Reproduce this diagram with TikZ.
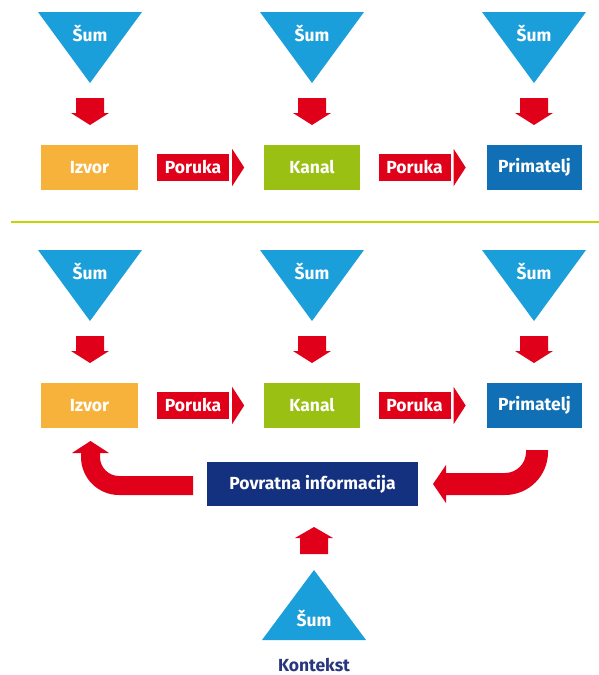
\documentclass[tikz,border=0pt]{standalone}
\usepackage{fontspec}
\setmainfont{Fira Sans}
\usetikzlibrary{calc}
\definecolor{sumblue}{HTML}{1A9FDB}
\definecolor{arrred}{HTML}{E1001A}
\definecolor{izvorc}{HTML}{F6B23A}
\definecolor{kanalc}{HTML}{99C012}
\definecolor{primc}{HTML}{1170B5}
\definecolor{povrc}{HTML}{13317F}
\definecolor{sepline}{HTML}{C4D600}
\definecolor{kontc}{HTML}{27367F}
\newcommand{\commrow}[1]{%
  \foreach \cx/\nm in {90/a,312/b,534/c} {
    \fill[sumblue] (\cx-52,12) -- (\cx+52,12) -- (\cx,83) -- cycle;
    \node[lbl] (sum#1\nm) at (\cx,33) {Šum};
    \fill[arrred] (\cx-14,98) -- (\cx+14,98) -- (\cx+14,113) -- (\cx+19,113)
      -- (\cx,125) -- (\cx-19,113) -- (\cx-14,113) -- cycle;
  }
  \node[box, fill=izvorc, minimum width=97pt] (izvor#1) at (89.5,167.5) {Izvor};
  \node[box, fill=kanalc, minimum width=96pt] (kanal#1) at (312,167.5) {Kanal};
  \node[box, fill=primc, minimum width=95pt] (prim#1) at (534.5,167.5) {Primatelj};
  \node[poruka] (porA#1) at (193,167.5) {Poruka};
  \fill[arrred] ($(porA#1.east)+(3pt,18.5pt)$) -- ++(0pt,-37pt) -- ++(12pt,18.5pt) -- cycle;
  \node[poruka] (porB#1) at (414.5,167.5) {Poruka};
  \fill[arrred] ($(porB#1.east)+(3pt,18.5pt)$) -- ++(0pt,-37pt) -- ++(12pt,18.5pt) -- cycle;
}
\begin{document}
\begin{tikzpicture}[x=1pt,y=-1pt,
  lbl/.style={text=white, font=\fontsize{17.5}{20}\selectfont\bfseries, inner sep=0pt},
  box/.style={lbl, minimum height=45pt},
  poruka/.style={lbl, fill=arrred, minimum width=72pt, minimum height=27pt}]
\useasboundingbox (0,0) rectangle (599,675);
\fill[white] (0,0) rectangle (599,675);
% top row
\commrow{T}
% separator
\coordinate (sepL) at (11,222);
\coordinate (sepR) at (599,222);
\draw[sepline, line width=1.5pt] (sepL) -- (sepR);
% bottom row
\begin{scope}[shift={(0,238)}]
\commrow{B}
\end{scope}
% feedback
\node[box, fill=povrc, minimum width=211pt, minimum height=44pt] (povr) at (312.5,484) {Povratna informacija};
% left curved arrow
\fill[arrred] (193,476) -- (119,476) arc[start angle=270, end angle=180, radius=19pt]
  -- (100,453) -- (109,453) -- (90.5,441) -- (72,453) -- (81,453) -- (81,457)
  arc[start angle=180, end angle=270, radius=38pt] -- (193,495) -- cycle;
% right curved arrow
\fill[arrred] (526,450) -- (526,452) arc[start angle=0, end angle=-90, radius=21pt]
  -- (446,473) -- (446,465) -- (433,484) -- (446,503) -- (446,495) -- (505,495)
  arc[start angle=-90, end angle=0, radius=43pt] -- (548,450) -- cycle;
% bottom up arrow
\fill[arrred] (300,554) -- (328,554) -- (328,538) -- (333,538) -- (314,527)
  -- (295,538) -- (300,538) -- cycle;
% bottom triangle
\fill[sumblue] (314,570) -- (366,640) -- (262,640) -- cycle;
\node[lbl] (sumK) at (314,618) {Šum};
\node[lbl, text=kontc] (kontekst) at (314,665) {Kontekst};
\end{tikzpicture}
\end{document}
